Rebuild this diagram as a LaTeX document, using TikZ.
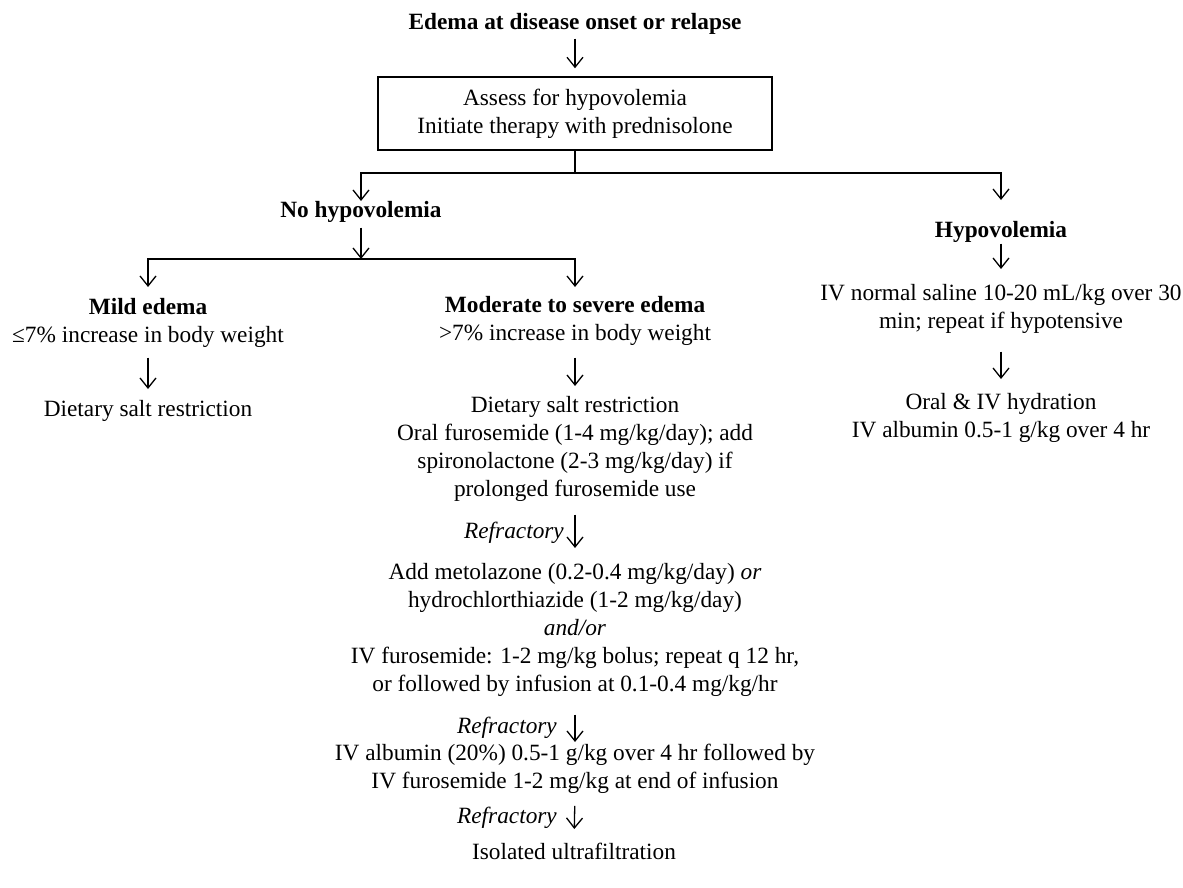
\documentclass[tikz,border=0pt]{standalone}
\usepackage{fontspec}
\setmainfont{Liberation Serif}
\usetikzlibrary{arrows.meta}
\begin{document}
\begin{tikzpicture}[x=1pt,y=-1pt,
  every node/.style={inner sep=0pt, font=\fontsize{23.3}{28}\selectfont, align=center},
  txt/.style={anchor=north},
  stepbox/.style={draw, line width=1.4pt, minimum width=394pt, minimum height=73pt},
  conn/.style={line width=1.4pt},
  garr/.style={line width=1.3pt, -{Straight Barb[length=10pt,width=16pt,line width=1.3pt]}},
  lbl/.style={anchor=east, font=\fontsize{23.3}{28}\selectfont\itshape}
]
\useasboundingbox (0,0) rectangle (1183,888);

% nodes
\node[txt] (title) at (575,13) {\textbf{Edema at disease onset or relapse}};
\node[stepbox] (box) at (575,113.5) {Assess for hypovolemia\\Initiate therapy with prednisolone};
\coordinate (split) at (575,173);
\node[txt] (nohypo) at (361,201) {\textbf{No hypovolemia}};
\coordinate (split2) at (361,259);
\node[txt] (hypo) at (1001,221) {\textbf{Hypovolemia}};
\node[txt] (saline) at (1001,284) {IV normal saline 10-20 mL/kg over 30\\min; repeat if hypotensive};
\node[txt] (hydr) at (1001,393) {Oral \& IV hydration\\IV albumin 0.5-1 g/kg over 4 hr};
\node[txt] (mild) at (148,298) {\textbf{Mild edema}\\≤7\% increase in body weight};
\node[txt] (milddiet) at (148,400) {Dietary salt restriction};
\node[txt] (modsev) at (575,296) {\textbf{Moderate to severe edema}\\>7\% increase in body weight};
\node[txt] (oral) at (575,396) {Dietary salt restriction\\Oral furosemide (1-4 mg/kg/day); add\\spironolactone (2-3 mg/kg/day) if\\prolonged furosemide use};
\node[txt] (metol) at (575,563) {Add metolazone (0.2-0.4 mg/kg/day) \textit{or}\\hydrochlorthiazide (1-2 mg/kg/day)\\\textit{and/or}\\IV furosemide: 1-2 mg/kg bolus; repeat q 12 hr,\\or followed by infusion at 0.1-0.4 mg/kg/hr};
\node[txt] (alb) at (575,744) {IV albumin (20\%) 0.5-1 g/kg over 4 hr followed by\\IV furosemide 1-2 mg/kg at end of infusion};
\node[txt] (ultra) at (574,843) {Isolated ultrafiltration};
\node[lbl] (rf1) at (564,533) {Refractory};
\node[lbl] (rf2) at (557,728) {Refractory};
\node[lbl] (rf3) at (557,818) {Refractory};

% connectors
\draw[garr, shorten <=4pt, shorten >=8pt] (title.south) -- (box.north);
\draw[conn] (box.south) -- (split);
\draw[garr] (split) -| (nohypo.north);
\draw[garr, shorten >=21pt] (split) -| (hypo.north);
\draw[garr, shorten <=5pt] (nohypo.south) -- (split2);
\draw[garr, shorten <=1pt, shorten >=15pt] (hypo.south) -- (saline.north);
\draw[garr, shorten <=18pt, shorten >=14pt] (saline.south) -- (hydr.north);
\draw[garr, shorten >=11pt] (split2) -| (mild.north);
\draw[garr, shorten >=9pt] (split2) -| (modsev.north);
\draw[garr, shorten <=10pt, shorten >=11pt] (mild.south) -- (milddiet.north);
\draw[garr, shorten <=12pt, shorten >=10pt] (modsev.south) -- (oral.north);
\draw[garr, shorten <=13pt, shorten >=15pt] (oral.south) -- (metol.north);
\draw[garr, shorten <=18pt, shorten >=2pt] (metol.south) -- (alb.north);
\draw[garr, shorten <=12pt, shorten >=14pt] (alb.south) -- (ultra.north);
\end{tikzpicture}
\end{document}
